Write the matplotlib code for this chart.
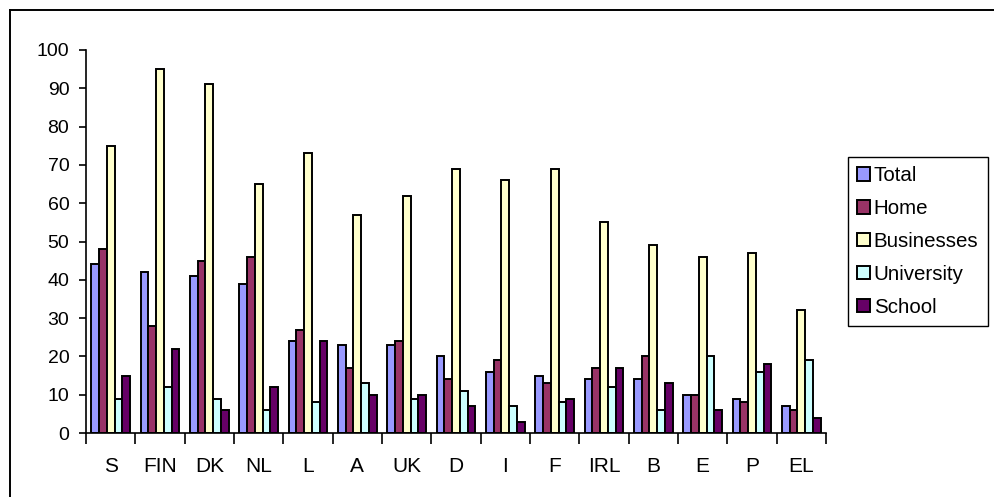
import matplotlib
matplotlib.use("Agg")
import matplotlib.pyplot as plt
from matplotlib.lines import Line2D
import numpy as np

plt.rcParams['font.family'] = ['Liberation Sans', 'DejaVu Sans']

countries = ["S", "FIN", "DK", "NL", "L", "A", "UK", "D", "I", "F", "IRL", "B", "E", "P", "EL"]
total = [44, 42, 41, 39, 24, 23, 23, 20, 16, 15, 14, 14, 10, 9, 7]
home = [48, 28, 45, 46, 27, 17, 24, 14, 19, 13, 17, 20, 10, 8, 6]
businesses = [75, 95, 91, 65, 73, 57, 62, 69, 66, 69, 55, 49, 46, 47, 32]
university = [9, 12, 9, 6, 8, 13, 9, 11, 7, 8, 12, 6, 20, 16, 19]
school = [15, 22, 6, 12, 24, 10, 10, 7, 3, 9, 17, 13, 6, 18, 4]

series_names = ["Total", "Home", "Businesses", "University", "School"]
series_values = [total, home, businesses, university, school]
colors = ["#9999FF", "#993366", "#FFFFCC", "#CCFFFF", "#660066"]

W, H = 994, 497
fig = plt.figure(figsize=(W / 100, H / 100), dpi=100)
ax = fig.add_axes([86 / W, (H - 433) / H, (826 - 86) / W, (433 - 50) / H])

x = np.arange(len(countries))
bw = 0.158
n = len(series_names)
for i, (name, vals, c) in enumerate(zip(series_names, series_values, colors)):
    offs = (i - (n - 1) / 2) * bw
    ax.bar(x + offs, vals, width=bw, color=c, edgecolor="black", linewidth=1.4, label=name)

ax.set_xlim(-0.5, len(countries) - 0.5)
ax.set_ylim(0, 100)
ax.set_yticks(np.arange(0, 101, 10))
ax.tick_params(axis="y", labelsize=14, length=5, width=1.2, direction="out", pad=7)

ax.set_xticks(np.arange(len(countries) + 1) - 0.5)
ax.set_xticklabels([])
ax.tick_params(axis="x", which="major", length=8, width=1.2, direction="out")
ax.set_xticks(x, minor=True)
ax.set_xticklabels(countries, minor=True)
ax.tick_params(axis="x", which="minor", length=0, labelsize=15, pad=17)

for s in ["top", "right"]:
    ax.spines[s].set_visible(False)
for s in ["left", "bottom"]:
    ax.spines[s].set_linewidth(1.2)

# outer chart frame
fig.add_artist(Line2D([10 / W, 10 / W], [0, 1 - 10 / H], transform=fig.transFigure, color="black", lw=1.4))
fig.add_artist(Line2D([10 / W, 1], [1 - 10 / H, 1 - 10 / H], transform=fig.transFigure, color="black", lw=1.4))

leg = fig.legend(loc="upper left", bbox_to_anchor=(848 / W, 1 - 157 / H), fontsize=14.8,
                 frameon=True, fancybox=False, edgecolor="black", framealpha=1,
                 handlelength=0.6, handleheight=0.6, handletextpad=0.2,
                 labelspacing=0.68, borderpad=0.45, borderaxespad=0)
leg.get_frame().set_linewidth(1)

fig.savefig("out.png", dpi=100)
